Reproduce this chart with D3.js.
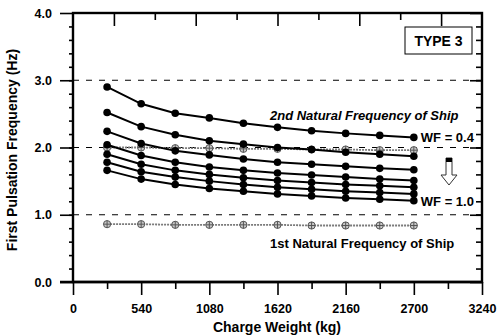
<!DOCTYPE html>
<html>
<head>
<meta charset="utf-8">
<script src="https://cdn.jsdelivr.net/npm/d3@7"></script>
<style>
  body { margin: 0; background: #fff; }
  svg { display: block; font-family: "Liberation Sans", Arial, sans-serif; }
</style>
</head>
<body>
<svg width="498" height="336"></svg>
<script>
// charge weights (kg)
var weights = [270, 540, 810, 1080, 1350, 1620, 1890, 2160, 2430, 2700];

// first pulsation frequency for WF = 0.4 ... 1.0 (Hz)
var wfLabels = ["0.4", "0.5", "0.6", "0.7", "0.8", "0.9", "1.0"];
var wf04 = [2.90, 2.65, 2.51, 2.44, 2.36, 2.30, 2.25, 2.21, 2.18, 2.15];
var wf05 = [2.52, 2.31, 2.19, 2.10, 2.05, 2.00, 1.97, 1.93, 1.90, 1.87];
var wf06 = [2.24, 2.06, 1.95, 1.89, 1.83, 1.78, 1.75, 1.72, 1.69, 1.67];
var wf07 = [2.04, 1.88, 1.78, 1.71, 1.66, 1.62, 1.59, 1.56, 1.53, 1.51];
var wf08 = [1.90, 1.75, 1.66, 1.60, 1.55, 1.51, 1.48, 1.45, 1.43, 1.41];
var wf09 = [1.78, 1.64, 1.56, 1.50, 1.45, 1.41, 1.38, 1.35, 1.33, 1.31];
var wf10 = [1.66, 1.53, 1.45, 1.39, 1.35, 1.31, 1.28, 1.25, 1.23, 1.21];

// natural frequencies of the ship
var ship2nd = [2.00, 2.00, 1.99, 1.99, 1.98, 1.98, 1.97, 1.97, 1.96, 1.96];
var ship1st = [0.86, 0.86, 0.85, 0.85, 0.85, 0.85, 0.84, 0.84, 0.84, 0.84];

var xTicks = [0, 540, 1080, 1620, 2160, 2700, 3240];
var yTicks = [0, 1, 2, 3, 4];
var dashedAt = [1, 2, 3];

var svg = d3.select("svg");
// plot box (don't call it "top", that's window.top)
var pL = 73, pR = 482, pT = 13, pB = 282;

var x = d3.scaleLinear().domain([0, 3240]).range([pL, pR]);
var y = d3.scaleLinear().domain([0, 4]).range([pB, pT]);

// dashed reference lines
svg.selectAll(".ref")
   .data(dashedAt)
   .enter().append("line")
   .attr("x1", pL).attr("x2", pR)
   .attr("y1", function(d) { return y(d); })
   .attr("y2", function(d) { return y(d); })
   .attr("stroke", "#000")
   .attr("stroke-width", 1)
   .attr("stroke-dasharray", "6,7");

// axes : left & bottom outward, top & right inward
var axisFont = function(g) {
    g.select(".domain").remove();
    g.selectAll("text").attr("font-size", 12.5).attr("font-weight", "bold")
     .attr("font-family", "Liberation Sans, Arial, sans-serif").attr("fill", "#000");
    g.selectAll("line").attr("stroke", "#000").attr("stroke-width", 1.6);
};

svg.append("g")
   .attr("transform", "translate(0," + pB + ")")
   .call(d3.axisBottom(x).tickValues(xTicks).tickSize(13).tickPadding(9).tickFormat(d3.format("d")))
   .call(axisFont);
svg.append("g")
   .attr("transform", "translate(0," + pB + ")")
   .call(d3.axisBottom(x).tickValues(d3.range(270, 3240, 540)).tickSize(7).tickFormat(""))
   .call(axisFont);

svg.append("g")
   .attr("transform", "translate(" + pL + ",0)")
   .call(d3.axisLeft(y).tickValues(yTicks).tickSize(13).tickPadding(8).tickFormat(d3.format(".1f")))
   .call(axisFont);
svg.append("g")
   .attr("transform", "translate(" + pL + ",0)")
   .call(d3.axisLeft(y).tickValues(d3.range(0.2, 4, 0.2)).tickSize(4).tickFormat(""))
   .call(axisFont);

svg.append("g")
   .attr("transform", "translate(" + pR + ",0)")
   .call(d3.axisRight(y).tickValues(yTicks).tickSize(-12).tickFormat(""))
   .call(axisFont);
svg.append("g")
   .attr("transform", "translate(" + pR + ",0)")
   .call(d3.axisRight(y).tickValues(d3.range(0.2, 4, 0.2)).tickSize(-6).tickFormat(""))
   .call(axisFont);

svg.append("g")
   .attr("transform", "translate(0," + pT + ")")
   .call(d3.axisTop(x).tickValues(d3.range(324, 3240, 648)).tickSize(-13).tickFormat(""))
   .call(axisFont);
svg.append("g")
   .attr("transform", "translate(0," + pT + ")")
   .call(d3.axisTop(x).tickValues(d3.range(648, 3240, 648)).tickSize(-7).tickFormat(""))
   .call(axisFont);

// frame
svg.append("rect")
   .attr("x", pL).attr("y", pT)
   .attr("width", pR - pL).attr("height", pB - pT)
   .attr("fill", "none").attr("stroke", "#000").attr("stroke-width", 2.4);
svg.append("line")
   .attr("x1", pL - 13).attr("x2", pR)
   .attr("y1", pB).attr("y2", pB)
   .attr("stroke", "#000").attr("stroke-width", 2.4);

var line = d3.line()
    .x(function(d, i) { return x(weights[i]); })
    .y(function(d) { return y(d); });

// ship natural frequencies (grey, crossed circles)
[ship2nd, ship1st].forEach(function(s) {
    svg.append("path")
       .attr("d", line(s))
       .attr("fill", "none")
       .attr("stroke", "#7a7a7a")
       .attr("stroke-width", 1.8)
       .attr("stroke-dasharray", "2,1");
    var m = svg.append("g").selectAll("g")
       .data(s).enter().append("g")
       .attr("transform", function(d, i) { return "translate(" + x(weights[i]) + "," + y(d) + ")"; });
    m.append("circle").attr("r", 3.6).attr("fill", "#c8c8c8").attr("stroke", "#555").attr("stroke-width", 1);
    m.append("path").attr("d", "M-3.6,0H3.6M0,-3.6V3.6").attr("stroke", "#555").attr("stroke-width", 1);
});

// WF series (black, filled circles)
var series = [wf04, wf05, wf06, wf07, wf08, wf09, wf10];
series.forEach(function(s) {
    svg.append("path")
       .attr("d", line(s))
       .attr("fill", "none")
       .attr("stroke", "#000")
       .attr("stroke-width", 2);
    svg.append("g").selectAll("circle")
       .data(s).enter().append("circle")
       .attr("cx", function(d, i) { return x(weights[i]); })
       .attr("cy", function(d) { return y(d); })
       .attr("r", 3.8)
       .attr("fill", "#000");
});

// labels
svg.append("text")
   .attr("x", x(2700) + 7).attr("y", y(wf04[9]) + 5)
   .attr("font-size", 13).attr("font-weight", "bold")
   .text("WF = " + wfLabels[0]);
svg.append("text")
   .attr("x", x(2700) + 7).attr("y", y(wf10[9]) + 5)
   .attr("font-size", 13).attr("font-weight", "bold")
   .text("WF = " + wfLabels[6]);

svg.append("text")
   .attr("x", 270).attr("y", 120)
   .attr("font-size", 13).attr("font-weight", "bold").attr("font-style", "italic")
   .text("2nd Natural Frequency of Ship");
svg.append("text")
   .attr("x", 270).attr("y", 248)
   .attr("font-size", 13).attr("font-weight", "bold")
   .text("1st Natural Frequency of Ship");

// hollow down arrow
var ax = 449, ay = 158;
svg.append("path")
   .attr("d", "M" + (ax - 3) + "," + ay + "h6v17h5l-8,10l-8,-10h5z")
   .attr("fill", "#fff").attr("stroke", "#333").attr("stroke-width", 1);
svg.append("rect")
   .attr("x", ax - 3).attr("y", ay).attr("width", 6).attr("height", 4)
   .attr("fill", "#000");

// TYPE 3 box
svg.append("rect")
   .attr("x", 405).attr("y", 27).attr("width", 67).attr("height", 27)
   .attr("fill", "#fff").attr("stroke", "#000").attr("stroke-width", 1);
svg.append("text")
   .attr("x", 438.5).attr("y", 46)
   .attr("text-anchor", "middle")
   .attr("font-size", 14).attr("font-weight", "bold")
   .text("TYPE 3");

// axis titles
svg.append("text")
   .attr("x", 277).attr("y", 332)
   .attr("text-anchor", "middle")
   .attr("font-size", 14).attr("font-weight", "bold")
   .text("Charge Weight (kg)");
svg.append("text")
   .attr("transform", "translate(17," + 150 + ") rotate(-90)")
   .attr("text-anchor", "middle")
   .attr("font-size", 14).attr("font-weight", "bold")
   .text("First Pulsation Frequency (Hz)");
</script>
</body>
</html>
